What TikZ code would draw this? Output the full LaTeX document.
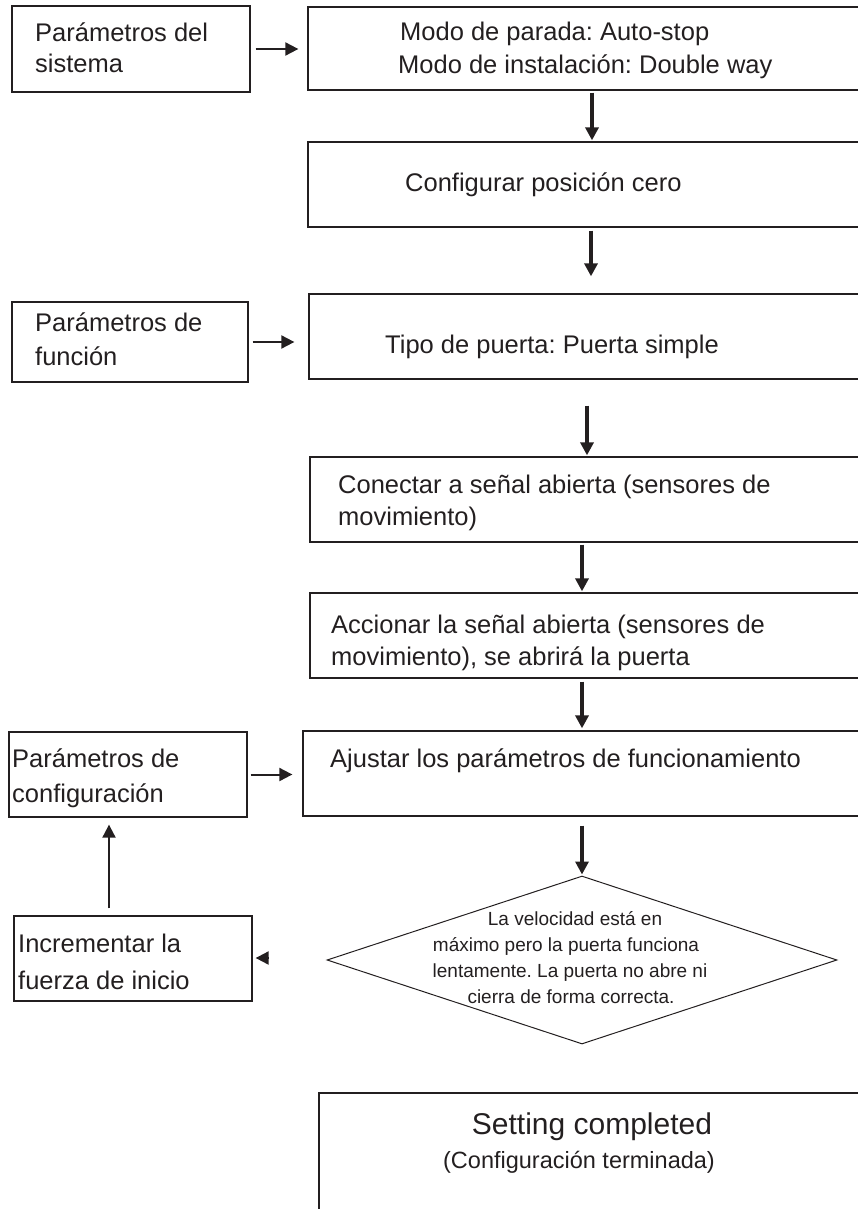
\documentclass[tikz,border=0pt]{standalone}
\usepackage{fontspec}
\setmainfont{Liberation Sans}
\usetikzlibrary{arrows.meta,shapes.geometric}
\definecolor{ink}{HTML}{231F20}
\frenchspacing
\tikzset{
  box/.style={draw=ink, line width=1.3pt, inner sep=0pt, fill=none},
  txt/.style={anchor=base west, inner sep=0pt, text=ink, font=\fontsize{25.5}{30}\selectfont},
  dtxt/.style={anchor=base, inner sep=0pt, text=ink, font=\fontsize{19}{23}\selectfont},
  varrow/.style={draw=ink, line width=3.6pt, -{Triangle[length=13pt,width=13pt]}},
  harrow/.style={draw=ink, line width=2pt, -{Triangle[length=13pt,width=13pt]}},
}
\begin{document}
\begin{tikzpicture}[x=1pt,y=-1pt]
\useasboundingbox (0,0) rectangle (858,1209);
% boxes
\node[box, minimum width=238pt, minimum height=86pt] (A) at (131,49) {};
\node[box, minimum width=562pt, minimum height=83pt] (B) at (589,48.5) {};
\node[box, minimum width=562pt, minimum height=85pt] (C) at (589,184.5) {};
\node[box, minimum width=236pt, minimum height=80pt] (D) at (130,342) {};
\node[box, minimum width=561pt, minimum height=85pt] (E) at (589.5,336.5) {};
\node[box, minimum width=560pt, minimum height=85pt] (F) at (590,499.5) {};
\node[box, minimum width=560pt, minimum height=85pt] (G) at (590,635.5) {};
\node[box, minimum width=567pt, minimum height=85pt] (H) at (586.5,773.5) {};
\node[box, minimum width=238pt, minimum height=85pt] (I) at (128,774.5) {};
\node[box, minimum width=238pt, minimum height=85pt] (J) at (133,958.5) {};
\node[box, minimum width=581pt, minimum height=167pt] (K) at (609.5,1176.5) {};
\node[draw=ink, line width=1pt, shape=diamond, inner sep=0pt, minimum width=510pt, minimum height=168pt] (Q) at (582,960) {};
% texts
\node[txt] (tA1) at (35,42) {Parámetros del};
\node[txt] (tA2) at (35,73) {sistema};
\node[txt] (tB1) at (400,41) {Modo de parada: Auto-stop};
\node[txt] (tB2) at (398,74) {Modo de instalación: Double way};
\node[txt] (tC) at (405,191) {Configurar posición cero};
\node[txt] (tD1) at (35,331) {Parámetros de};
\node[txt] (tD2) at (35,365) {función};
\node[txt] (tE) at (385,353) {Tipo de puerta: Puerta simple};
\node[txt] (tF1) at (338,493) {Conectar a señal abierta (sensores de};
\node[txt] (tF2) at (338,525) {movimiento)};
\node[txt] (tG1) at (331,633) {Accionar la señal abierta (sensores de};
\node[txt] (tG2) at (331,665) {movimiento), se abrirá la puerta};
\node[txt] (tH) at (330,767) {Ajustar los parámetros de funcionamiento};
\node[txt] (tI1) at (12,767) {Parámetros de};
\node[txt] (tI2) at (12,802) {configuración};
\node[txt] (tJ1) at (18,952) {Incrementar la};
\node[txt] (tJ2) at (18,989) {fuerza de inicio};
\node[dtxt] (tQ1) at (575,925) {La velocidad está en};
\node[dtxt] (tQ2) at (566,951) {máximo pero la puerta funciona};
\node[dtxt] (tQ3) at (570,977) {lentamente. La puerta no abre ni};
\node[dtxt] (tQ4) at (571,1003) {cierra de forma correcta.};
\node[anchor=base, inner sep=0pt, text=ink, font=\fontsize{30}{36}\selectfont] (tK1) at (592,1134) {Setting completed};
\node[anchor=base, inner sep=0pt, text=ink, font=\fontsize{23.5}{28}\selectfont] (tK2) at (579,1168) {(Configuración terminada)};
% arrow columns
\coordinate (x1) at (592,0);
\coordinate (x2) at (591,0);
\coordinate (x3) at (587,0);
\coordinate (x4) at (582,0);
\coordinate (x5) at (109,0);
\coordinate (jtail) at (268,958);
% connectors
\draw[harrow, shorten <=5pt, shorten >=9pt] (A.east) -- (A.east -| B.west);
\draw[varrow, shorten <=2pt, shorten >=1pt] (B.south -| x1) -- (C.north -| x1);
\draw[varrow, shorten <=3pt, shorten >=17pt] (C.south -| x2) -- (E.north -| x2);
\draw[harrow, shorten <=4pt, shorten >=14pt] (D.east) -- (D.east -| E.west);
\draw[varrow, shorten <=26pt, shorten >=1pt] (E.south -| x3) -- (F.north -| x3);
\draw[varrow, shorten <=2pt, shorten >=1pt] (F.south -| x4) -- (G.north -| x4);
\draw[varrow, shorten <=3pt, shorten >=2pt] (G.south -| x4) -- (H.north -| x4);
\draw[harrow, shorten <=3pt, shorten >=10pt] (I.east) -- (I.east -| H.west);
\draw[varrow, shorten <=9pt, shorten >=1pt] (H.south -| x4) -- (Q.north);
\draw[harrow, shorten <=7pt, shorten >=7pt] (J.north -| x5) -- (I.south -| x5);
\draw[harrow, shorten >=3pt] (jtail) -- (J.east |- jtail);
\end{tikzpicture}
\end{document}
